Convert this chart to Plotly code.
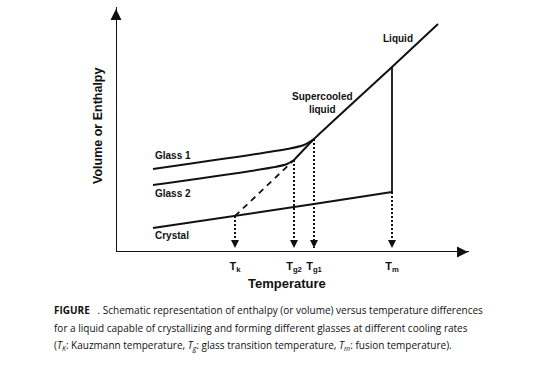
import plotly.graph_objects as go

# ---- data (arbitrary units: temperature vs enthalpy) ----
T_k, T_g2, T_g1, T_m = 119, 178, 198, 276
T_max, H_max = 357, 249

crystal_T = [37, 119, 178, 198, 276]
crystal_H = [24, 36, 45, 48, 60]

glass1_T = [37, 171, 188, 198]
glass1_H = [83, 103, 107, 113]

glass2_T = [37, 159, 171, 178]
glass2_H = [67, 85, 88, 92]

liquid_T = [178, 198, 276, 322]
liquid_H = [92, 113, 185, 228]

dashed_T = [119, 178]
dashed_H = [36, 92]

transition_T = [T_k, T_g2, T_g1, T_m]
transition_H = [36, 92, 113, 60]
tick_labels = ["<b>T<sub>k</sub></b>", "<b>T<sub>g2</sub></b>", "<b>T<sub>g1</sub></b>", "<b>T<sub>m</sub></b>"]

BLK = "#111111"
lab_font = dict(family="Liberation Sans", size=10, color=BLK)

fig = go.Figure()
lw = 2
fig.add_trace(go.Scatter(x=crystal_T, y=crystal_H, mode="lines", line=dict(color=BLK, width=lw)))
fig.add_trace(go.Scatter(x=glass1_T, y=glass1_H, mode="lines", line=dict(color=BLK, width=lw, shape="spline", smoothing=0.8)))
fig.add_trace(go.Scatter(x=glass2_T, y=glass2_H, mode="lines", line=dict(color=BLK, width=lw, shape="spline", smoothing=0.8)))
fig.add_trace(go.Scatter(x=liquid_T, y=liquid_H, mode="lines", line=dict(color=BLK, width=lw, shape="spline", smoothing=0.4)))
fig.add_trace(go.Scatter(x=dashed_T, y=dashed_H, mode="lines", line=dict(color=BLK, width=1.8, dash="6px,5px")))
# vertical solid line at Tm (liquid -> crystal)
fig.add_trace(go.Scatter(x=[T_m, T_m], y=[liquid_H[2], crystal_H[-1]], mode="lines", line=dict(color=BLK, width=1.8)))

# dotted drop lines with arrowheads
for t, h in zip(transition_T, transition_H):
    fig.add_trace(go.Scatter(x=[t, t], y=[h, 4], mode="lines", line=dict(color=BLK, width=2, dash="2px,2px")))
fig.add_trace(go.Scatter(x=transition_T, y=[4] * 4, mode="markers",
                         marker=dict(symbol="arrow-down", size=8, color=BLK, line=dict(width=0))))

# axes with arrows
fig.add_trace(go.Scatter(x=[0, T_max - 4], y=[0, 0], mode="lines", line=dict(color=BLK, width=2)))
fig.add_trace(go.Scatter(x=[0, 0], y=[0, H_max - 4], mode="lines", line=dict(color=BLK, width=2)))
fig.add_trace(go.Scatter(x=[T_max - 5], y=[0], mode="markers",
                         marker=dict(symbol="arrow-right", size=11, color=BLK, line=dict(width=0))))
fig.add_trace(go.Scatter(x=[0], y=[H_max - 6], mode="markers",
                         marker=dict(symbol="arrow-up", size=11, color=BLK, line=dict(width=0))))

# curve labels
def lab(x, y, text, xanchor="left"):
    fig.add_annotation(x=x, y=y, text=f"<b>{text}</b>", showarrow=False, xanchor=xanchor,
                       yanchor="middle", font=lab_font, align="center")

lab(37, 97, "Glass 1")
lab(37, 59, "Glass 2")
lab(37, 17, "Crystal")
lab(206, 149, "Supercooled<br>liquid", xanchor="center")
lab(282, 214, "Liquid", xanchor="center")

# axis titles (paper coordinates, outside the plotting area)
fig.add_annotation(xref="paper", yref="paper", x=(287 - 116) / 357, y=-(283 - 252) / 249,
                   text="<b>Temperature</b>", showarrow=False,
                   font=dict(family="Liberation Sans", size=13, color=BLK), xanchor="center", yanchor="middle")
fig.add_annotation(xref="paper", yref="paper", x=(98 - 116) / 357, y=(252 - 126) / 249,
                   text="<b>Volume or Enthalpy</b>", showarrow=False, textangle=-90,
                   font=dict(family="Liberation Sans", size=12.5, color=BLK), xanchor="center", yanchor="middle")

# caption
cap_font = dict(family="Open Sans", size=10, color=BLK)
cap_lines = [
    "<b>FIGURE</b>   . Schematic representation of enthalpy (or volume) versus temperature differences",
    "for a liquid capable of crystallizing and forming different glasses at different cooling rates",
    "(<i>T<sub>K</sub></i>: Kauzmann temperature, <i>T<sub>g</sub></i>: glass transition temperature, <i>T<sub>m</sub></i>: fusion temperature).",
]
for i, line in enumerate(cap_lines):
    fig.add_annotation(xref="paper", yref="paper", x=(52 - 116) / 357, y=-(310 - 252 + i * 17.5) / 249,
                       text=line, showarrow=False, xanchor="left", yanchor="middle", font=cap_font, align="left")

fig.update_layout(
    width=549, height=365,
    margin=dict(l=116, r=76, t=3, b=113),
    paper_bgcolor="white", plot_bgcolor="white",
    showlegend=False,
    xaxis=dict(range=[0, T_max], showgrid=False, zeroline=False, showline=False,
               tickvals=transition_T, ticktext=tick_labels, ticks="",
               tickfont=dict(family="Liberation Sans", size=11, color=BLK), ticklabelstandoff=6),
    yaxis=dict(range=[0, H_max], showgrid=False, zeroline=False, showline=False, showticklabels=False),
)
fig.update_traces(hoverinfo="skip", cliponaxis=False)
fig.write_html("out.html", config={"displayModeBar": False, "staticPlot": True},
               post_script="document.body.style.margin='0px';")
